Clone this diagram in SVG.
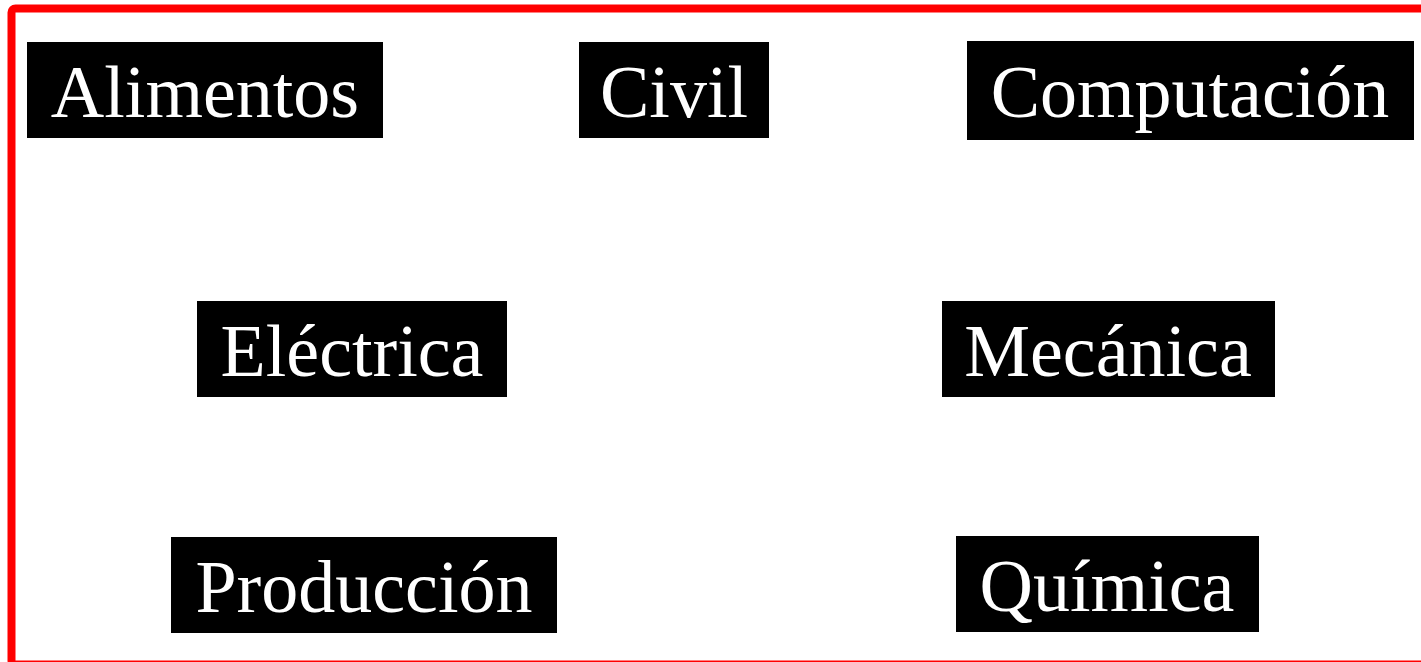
<svg xmlns="http://www.w3.org/2000/svg" width="1421" height="662" viewBox="0 0 1421 662">
<style>
.box{fill:#000}
.lbl{fill:#fff;font-family:"Liberation Serif","Times New Roman",serif;font-size:74px;text-anchor:middle}
</style>
<rect x="0" y="0" width="1421" height="662" fill="#fff"/>
<rect id="frame" x="11.5" y="8.5" width="1440" height="656" rx="4" fill="none" stroke="#f00" stroke-width="8"/>
<g id="connectors"></g>
<g id="alimentos"><rect class="box" x="27" y="42" width="356" height="96"/><text class="lbl" x="205" y="117">Alimentos</text></g>
<g id="civil"><rect class="box" x="579" y="42" width="190" height="96"/><text class="lbl" x="674" y="117">Civil</text></g>
<g id="computacion"><rect class="box" x="967" y="41" width="447" height="99"/><text class="lbl" x="1190" y="117">Computación</text></g>
<g id="electrica"><rect class="box" x="197" y="301" width="310" height="96"/><text class="lbl" x="352" y="376">Eléctrica</text></g>
<g id="mecanica"><rect class="box" x="942" y="301" width="333" height="96"/><text class="lbl" x="1108" y="376">Mecánica</text></g>
<g id="produccion"><rect class="box" x="171" y="537" width="386" height="96"/><text class="lbl" x="364" y="612">Producción</text></g>
<g id="quimica"><rect class="box" x="956" y="536" width="303" height="96"/><text class="lbl" x="1107" y="611">Química</text></g>
</svg>
